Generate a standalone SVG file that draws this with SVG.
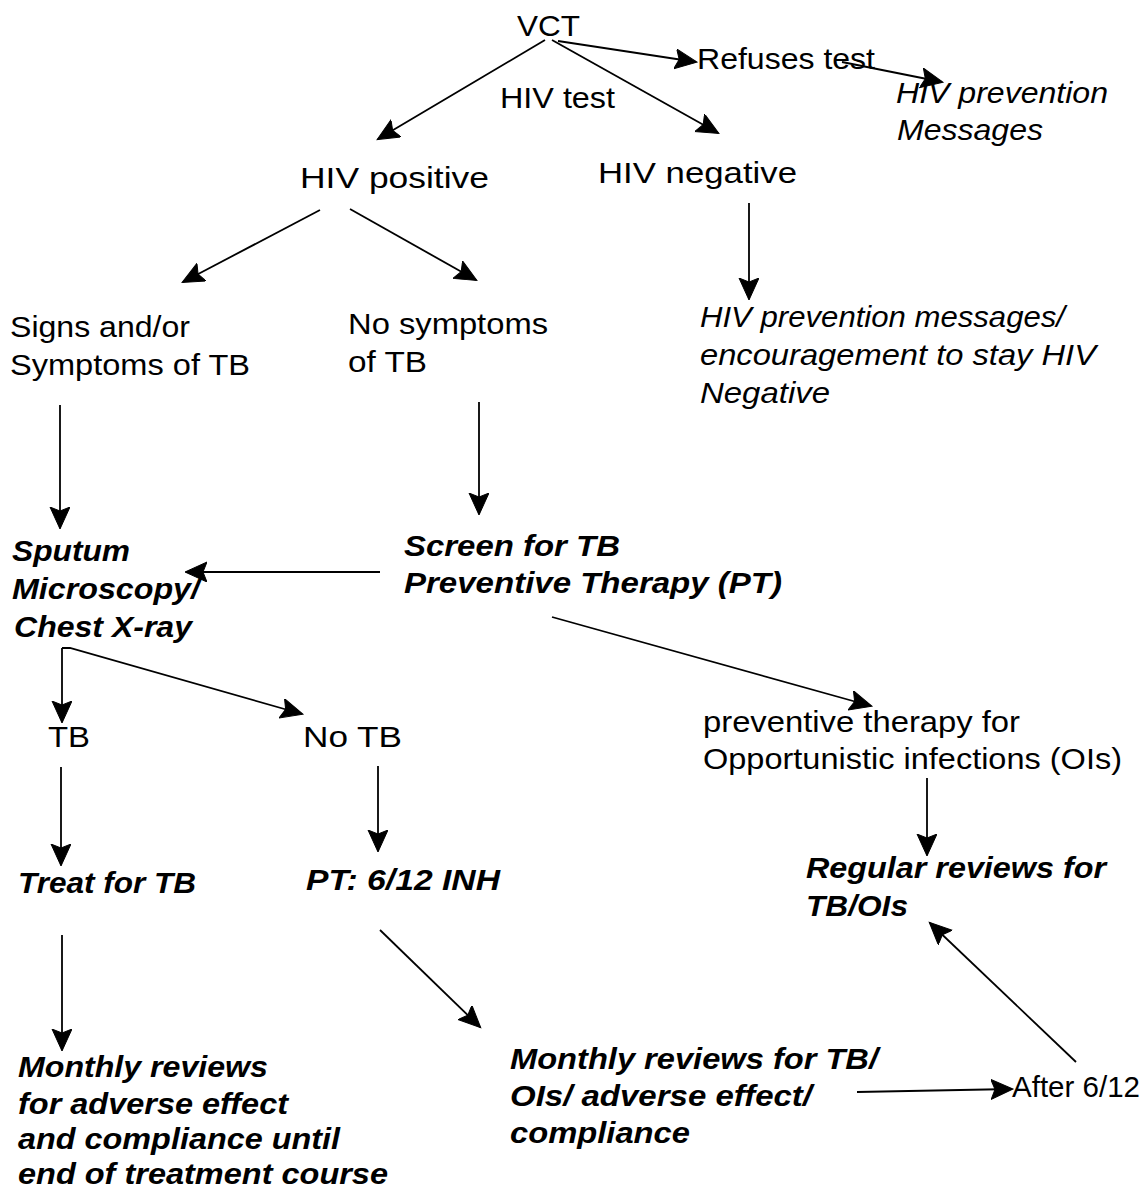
<svg xmlns="http://www.w3.org/2000/svg" width="1145" height="1192" viewBox="0 0 1145 1192">
<style>
text{font-family:"Liberation Sans",Arial,sans-serif;font-size:30px;fill:#000}
.i{font-style:italic}
.bi{font-style:italic;font-weight:bold;font-size:29px}
.c line,.c polyline{stroke:#000;stroke-width:1.8;fill:none;marker-end:url(#ah)}
</style>
<defs>
<marker id="ah" markerUnits="userSpaceOnUse" markerWidth="26" markerHeight="22" refX="21" refY="10" orient="auto">
<path d="M0,0 L22,10 L0,20 L4,10 z" fill="#000" stroke="#000" stroke-width="1"/>
</marker>
</defs>
<rect width="1145" height="1192" fill="#fff"/>
<g id="connectors" class="c">
<line x1="545" y1="40" x2="378" y2="139"/>
<line x1="552" y1="40" x2="718" y2="133"/>
<line x1="558" y1="41" x2="696" y2="62"/>
<line x1="842" y1="62" x2="942" y2="82"/>
<line x1="320" y1="210" x2="183" y2="282"/>
<line x1="350" y1="209" x2="476" y2="280"/>
<line x1="749" y1="203" x2="749" y2="299"/>
<line x1="60" y1="405" x2="60" y2="528"/>
<line x1="479" y1="402" x2="479" y2="514"/>
<line x1="380" y1="572" x2="186" y2="572"/>
<line x1="62" y1="648" x2="62" y2="722"/>
<polyline points="62,648 70,648 302,714"/>
<line x1="61" y1="767" x2="61" y2="865"/>
<line x1="378" y1="766" x2="378" y2="851"/>
<line x1="552" y1="617" x2="871" y2="706"/>
<line x1="927" y1="778" x2="927" y2="855"/>
<line x1="62" y1="935" x2="62" y2="1050"/>
<line x1="380" y1="930" x2="480" y2="1027"/>
<line x1="857" y1="1092" x2="1012" y2="1089"/>
<line x1="1076" y1="1062" x2="930" y2="923"/>
</g>
<g id="vct"><text x="517" y="36" textLength="63" lengthAdjust="spacingAndGlyphs">VCT</text></g>
<g id="refuses"><text x="697" y="69" textLength="178" lengthAdjust="spacingAndGlyphs">Refuses test</text></g>
<g id="hivtest"><text x="500" y="108" textLength="115" lengthAdjust="spacingAndGlyphs">HIV test</text></g>
<g id="prevmsg"><text class="i" x="896" y="103" textLength="212" lengthAdjust="spacingAndGlyphs">HIV prevention</text><text class="i" x="897" y="140" textLength="146" lengthAdjust="spacingAndGlyphs">Messages</text></g>
<g id="hivpos"><text x="300" y="188" textLength="189" lengthAdjust="spacingAndGlyphs">HIV positive</text></g>
<g id="hivneg"><text x="598" y="183" textLength="199" lengthAdjust="spacingAndGlyphs">HIV negative</text></g>
<g id="signs"><text x="10" y="337" textLength="180" lengthAdjust="spacingAndGlyphs">Signs and/or</text><text x="10" y="375" textLength="240" lengthAdjust="spacingAndGlyphs">Symptoms of TB</text></g>
<g id="nosymp"><text x="348" y="334" textLength="200" lengthAdjust="spacingAndGlyphs">No symptoms</text><text x="348" y="372" textLength="79" lengthAdjust="spacingAndGlyphs">of TB</text></g>
<g id="negmsg"><text class="i" x="700" y="327" textLength="365" lengthAdjust="spacingAndGlyphs">HIV prevention messages/</text><text class="i" x="700" y="365" textLength="396" lengthAdjust="spacingAndGlyphs">encouragement to stay HIV</text><text class="i" x="700" y="403" textLength="130" lengthAdjust="spacingAndGlyphs">Negative</text></g>
<g id="sputum"><text class="bi" x="12" y="561" textLength="118" lengthAdjust="spacingAndGlyphs">Sputum</text><text class="bi" x="12" y="599" textLength="188" lengthAdjust="spacingAndGlyphs">Microscopy/</text><text class="bi" x="14" y="637" textLength="178" lengthAdjust="spacingAndGlyphs">Chest X-ray</text></g>
<g id="screen"><text class="bi" x="404" y="556" textLength="216" lengthAdjust="spacingAndGlyphs">Screen for TB</text><text class="bi" x="404" y="593" textLength="378" lengthAdjust="spacingAndGlyphs">Preventive Therapy (PT)</text></g>
<g id="tb"><text x="48" y="747" textLength="42" lengthAdjust="spacingAndGlyphs">TB</text></g>
<g id="notb"><text x="303" y="747" textLength="99" lengthAdjust="spacingAndGlyphs">No TB</text></g>
<g id="prevtherapy"><text x="703" y="732" textLength="317" lengthAdjust="spacingAndGlyphs">preventive therapy for</text><text x="703" y="769" textLength="419" lengthAdjust="spacingAndGlyphs">Opportunistic infections (OIs)</text></g>
<g id="treat"><text class="bi" x="18" y="893" textLength="178" lengthAdjust="spacingAndGlyphs">Treat for TB</text></g>
<g id="ptinh"><text class="bi" x="306" y="890" textLength="194" lengthAdjust="spacingAndGlyphs">PT: 6/12 INH</text></g>
<g id="regular"><text class="bi" x="806" y="878" textLength="300" lengthAdjust="spacingAndGlyphs">Regular reviews for</text><text class="bi" x="806" y="916" textLength="102" lengthAdjust="spacingAndGlyphs">TB/OIs</text></g>
<g id="monthly1"><text class="bi" x="18" y="1077" textLength="250" lengthAdjust="spacingAndGlyphs">Monthly reviews</text><text class="bi" x="18" y="1114" textLength="270" lengthAdjust="spacingAndGlyphs">for adverse effect</text><text class="bi" x="18" y="1149" textLength="322" lengthAdjust="spacingAndGlyphs">and compliance until</text><text class="bi" x="18" y="1184" textLength="370" lengthAdjust="spacingAndGlyphs">end of treatment course</text></g>
<g id="monthly2"><text class="bi" x="510" y="1069" textLength="368" lengthAdjust="spacingAndGlyphs">Monthly reviews for TB/</text><text class="bi" x="510" y="1106" textLength="302" lengthAdjust="spacingAndGlyphs">OIs/ adverse effect/</text><text class="bi" x="510" y="1143" textLength="180" lengthAdjust="spacingAndGlyphs">compliance</text></g>
<g id="after"><text x="1012" y="1097" textLength="128" lengthAdjust="spacingAndGlyphs">After 6/12</text></g>
</svg>
